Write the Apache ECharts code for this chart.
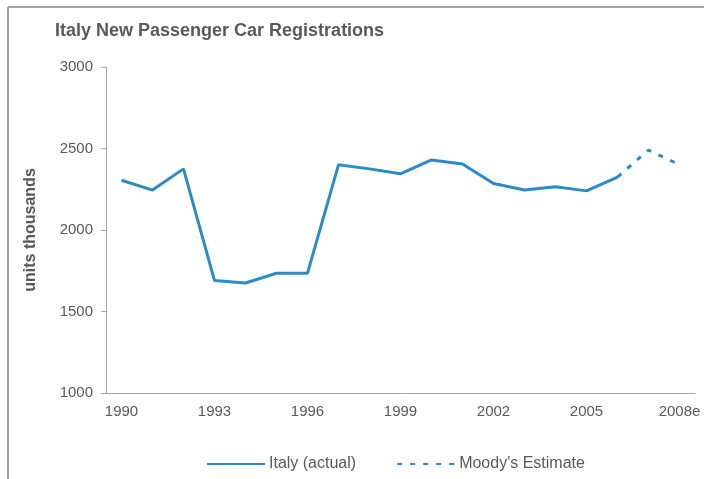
<!DOCTYPE html>
<html>
<head>
<meta charset="utf-8">
<script src="https://cdn.jsdelivr.net/npm/echarts@6/dist/echarts.min.js"></script>
<style>
html,body{margin:0;padding:0;background:#fff;}
#chart{width:704px;height:479px;}
</style>
</head>
<body>
<div id="chart"></div>
<script>
// years shown on the axis (estimates marked with e)
var years=['1990','1991','1992','1993','1994','1995','1996','1997','1998','1999',
    '2000','2001','2002','2003','2004','2005','2006','2007e','2008e'];
// registrations, units thousands, 1990-2006
var actual=[2305,2245,2375,1690,1675,1735,1735,2400,2375,2345,2430,2405,2285,2245,2265,2240,2325];
// Moody's estimate, 2006-2008
var estimate=[2325,2490,2400];
var estimateStart=16;

var actualData=years.map(function(y,i){return i<actual.length?actual[i]:null;});
var estimateData=years.map(function(y,i){
    var k=i-estimateStart;
    return (k>=0&&k<estimate.length)?estimate[k]:null;
});

var lineColor='#2D8AC7';
var textColor='#595959';
var axisColor='#A6A6A6';

var chart=echarts.init(document.getElementById('chart'));
var option={
    animation:false,
    textStyle:{fontFamily:'Liberation Sans, Arial, sans-serif'},
    title:{
        text:'Italy New Passenger Car Registrations',
        left:55,
        top:22,
        padding:0,
        textStyle:{fontSize:18,fontWeight:'bold',color:textColor}
    },
    graphic:[
        {type:'line',shape:{x1:8,y1:7,x2:8,y2:479},style:{stroke:'#A0A0A0',lineWidth:2}},
        {type:'line',shape:{x1:8,y1:7,x2:704,y2:7},style:{stroke:'#A0A0A0',lineWidth:2}}
    ],
    legend:{
        left:206,
        top:456,
        padding:0,
        itemWidth:58,
        itemHeight:14,
        itemGap:40,
        itemStyle:{opacity:0},
        textStyle:{fontSize:16,color:textColor,padding:[0,0,0,-1]},
        data:['Italy (actual)','Moody\'s Estimate']
    },
    grid:{left:106,right:9,top:67,bottom:86},
    xAxis:{
        type:'category',
        data:years,
        boundaryGap:true,
        axisLine:{lineStyle:{color:axisColor,width:1}},
        axisTick:{interval:0,length:5,lineStyle:{color:axisColor}},
        axisLabel:{interval:2,fontSize:15,color:textColor,margin:11}
    },
    yAxis:{
        type:'value',
        min:1000,
        max:3000,
        interval:500,
        name:'units thousands',
        nameLocation:'middle',
        nameGap:67,
        nameTextStyle:{fontSize:16,fontWeight:'bold',color:textColor},
        splitLine:{show:false},
        axisLine:{show:true,lineStyle:{color:axisColor,width:1}},
        axisTick:{show:true,length:5,lineStyle:{color:axisColor}},
        axisLabel:{fontSize:15,color:textColor,margin:13,formatter:function(v){return String(v);}}
    },
    series:[
        {
            name:'Italy (actual)',
            type:'line',
            data:actualData,
            symbol:'none',
            color:lineColor,
            lineStyle:{width:3,color:lineColor}
        },
        {
            name:'Moody\'s Estimate',
            type:'line',
            data:estimateData,
            symbol:'none',
            color:lineColor,
            lineStyle:{width:3,color:lineColor,type:[5,8]}
        }
    ]
};
chart.setOption(option);
</script>
</body>
</html>
